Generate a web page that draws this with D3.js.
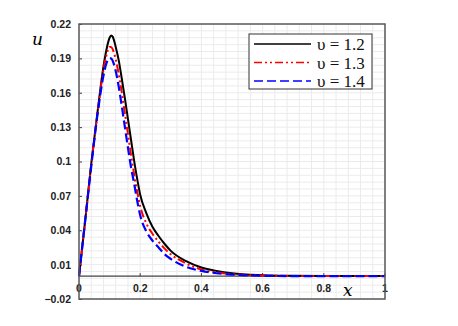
<!DOCTYPE html>
<html>
<head>
<meta charset="utf-8">
<script src="https://cdn.jsdelivr.net/npm/d3@7"></script>
<style>
  body { margin: 0; background: #fff; }
  svg { display: block; }
</style>
</head>
<body>
<div id="chart"></div>
<script>
// data
const xs = [0, 0.02, 0.04, 0.06, 0.08, 0.09, 0.1, 0.105, 0.11, 0.12, 0.13, 0.14, 0.15, 0.16, 0.17, 0.18, 0.19, 0.2,
  0.22, 0.24, 0.26, 0.28, 0.3, 0.35, 0.4, 0.45, 0.5, 0.6, 0.7, 0.8, 0.9, 1.0];
const u12 = [0, 0.048, 0.098, 0.142, 0.183, 0.198, 0.208, 0.21, 0.209, 0.2, 0.188, 0.172, 0.155, 0.137, 0.119, 0.101, 0.085, 0.071,
  0.055, 0.043, 0.035, 0.028, 0.022, 0.013, 0.0075, 0.0045, 0.0025, 0.0008, 0.0002, 0, 0, 0];
const u13 = [0, 0.048, 0.097, 0.141, 0.18, 0.193, 0.2, 0.2, 0.198, 0.189, 0.176, 0.16, 0.142, 0.124, 0.106, 0.089, 0.074, 0.061,
  0.046, 0.037, 0.03, 0.024, 0.019, 0.011, 0.0058, 0.0032, 0.0017, 0.0005, 0.0001, 0, 0, 0];
const u14 = [0, 0.048, 0.096, 0.14, 0.175, 0.186, 0.19, 0.19, 0.188, 0.179, 0.165, 0.148, 0.13, 0.112, 0.095, 0.081, 0.066, 0.053,
  0.039, 0.031, 0.025, 0.019, 0.015, 0.008, 0.0045, 0.0025, 0.0013, 0.0003, 0, 0, 0, 0];
const seriesNames = ['\u03C5 = 1.2', '\u03C5 = 1.3', '\u03C5 = 1.4'];
const xTicks = [0, 0.2, 0.4, 0.6, 0.8, 1];
const yTicks = [-0.02, 0.01, 0.04, 0.07, 0.1, 0.13, 0.16, 0.19, 0.22];

const width = 458, height = 326;
const margin = { top: 24, right: 73, bottom: 27, left: 79 };
const innerW = width - margin.left - margin.right;
const innerH = height - margin.top - margin.bottom;

const svg = d3.select('#chart').append('svg')
  .attr('width', width)
  .attr('height', height);

const g = svg.append('g').attr('transform', `translate(${margin.left},${margin.top})`);

const x = d3.scaleLinear().domain([0, 1]).range([0, innerW]);
const y = d3.scaleLinear().domain([-0.02, 0.22]).range([innerH, 0]);

// minor grid
const gridX = d3.range(0, 1.0001, 0.04);
const gridY = d3.range(-0.02, 0.2201, 0.006);
g.append('g').selectAll('line').data(gridX).join('line')
  .attr('x1', d => x(d)).attr('x2', d => x(d))
  .attr('y1', 0).attr('y2', innerH)
  .attr('stroke', '#ebebeb').attr('stroke-width', 1);
g.append('g').selectAll('line').data(gridY).join('line')
  .attr('x1', 0).attr('x2', innerW)
  .attr('y1', d => y(d)).attr('y2', d => y(d))
  .attr('stroke', '#ebebeb').attr('stroke-width', 1);

// zero line with x ticks
g.append('line')
  .attr('x1', 0).attr('x2', innerW)
  .attr('y1', y(0)).attr('y2', y(0))
  .attr('stroke', '#404040').attr('stroke-width', 1.2);
g.append('g').selectAll('line').data(xTicks).join('line')
  .attr('x1', d => x(d)).attr('x2', d => x(d))
  .attr('y1', y(0) - 3).attr('y2', y(0))
  .attr('stroke', '#404040');
g.append('g').selectAll('text').data(xTicks).join('text')
  .attr('x', d => x(d)).attr('y', y(0) + 16)
  .attr('text-anchor', 'middle')
  .attr('font-family', 'Liberation Sans, Arial, sans-serif')
  .attr('font-size', 10.5).attr('font-weight', 'bold')
  .attr('fill', '#222')
  .text(d => d3.format('~g')(d));

// y axis
const yAxis = d3.axisLeft(y).tickValues(yTicks).tickSize(-3).tickPadding(8)
  .tickFormat(d3.format('~g'));
const ya = g.append('g').call(yAxis);
ya.select('.domain').remove();
ya.selectAll('line').attr('stroke', '#404040');
ya.selectAll('text')
  .attr('font-family', 'Liberation Sans, Arial, sans-serif')
  .attr('font-size', 10.5).attr('font-weight', 'bold')
  .attr('fill', '#222');

// curves
const line = d3.line().x((d, i) => x(xs[i])).y(d => y(d)).curve(d3.curveMonotoneX);
const series = [
  { name: seriesNames[0], vals: u12, color: '#000', dash: null, w: 2 },
  { name: seriesNames[1], vals: u13, color: '#ff0000', dash: '8,3,2,3,2,3', w: 2 },
  { name: seriesNames[2], vals: u14, color: '#0000ff', dash: '9,4', w: 2.2 }
];
g.append('g').selectAll('path').data(series).join('path')
  .attr('d', d => line(d.vals))
  .attr('fill', 'none')
  .attr('stroke', d => d.color)
  .attr('stroke-width', d => d.w)
  .attr('stroke-dasharray', d => d.dash);

// frame
g.append('rect')
  .attr('x', 0).attr('y', 0)
  .attr('width', innerW).attr('height', innerH)
  .attr('fill', 'none')
  .attr('stroke', '#595959').attr('stroke-width', 1.5);

// axis titles
svg.append('text')
  .attr('x', 32).attr('y', 45)
  .attr('font-family', 'DejaVu Serif, serif')
  .attr('font-style', 'italic').attr('font-size', 17)
  .text('u');
svg.append('text')
  .attr('x', 343).attr('y', 296)
  .attr('font-family', 'DejaVu Serif, serif')
  .attr('font-style', 'italic').attr('font-size', 17)
  .text('x');

// legend
const lg = svg.append('g').attr('transform', 'translate(249,34)');
lg.append('rect')
  .attr('width', 123).attr('height', 55)
  .attr('fill', '#fff')
  .attr('stroke', '#333').attr('stroke-width', 1);
const rows = lg.selectAll('g.row').data(series).join('g')
  .attr('class', 'row')
  .attr('transform', (d, i) => `translate(0,${10 + i * 18.5})`);
rows.append('line')
  .attr('x1', 5).attr('x2', 62)
  .attr('y1', 0).attr('y2', 0)
  .attr('stroke', d => d.color)
  .attr('stroke-width', d => d.w - 0.5)
  .attr('stroke-dasharray', d => d.dash);
rows.append('text')
  .attr('x', 68).attr('y', 6)
  .attr('font-family', 'Liberation Serif, serif')
  .attr('font-size', 17)
  .attr('fill', '#111')
  .text(d => d.name);
</script>
</body>
</html>
